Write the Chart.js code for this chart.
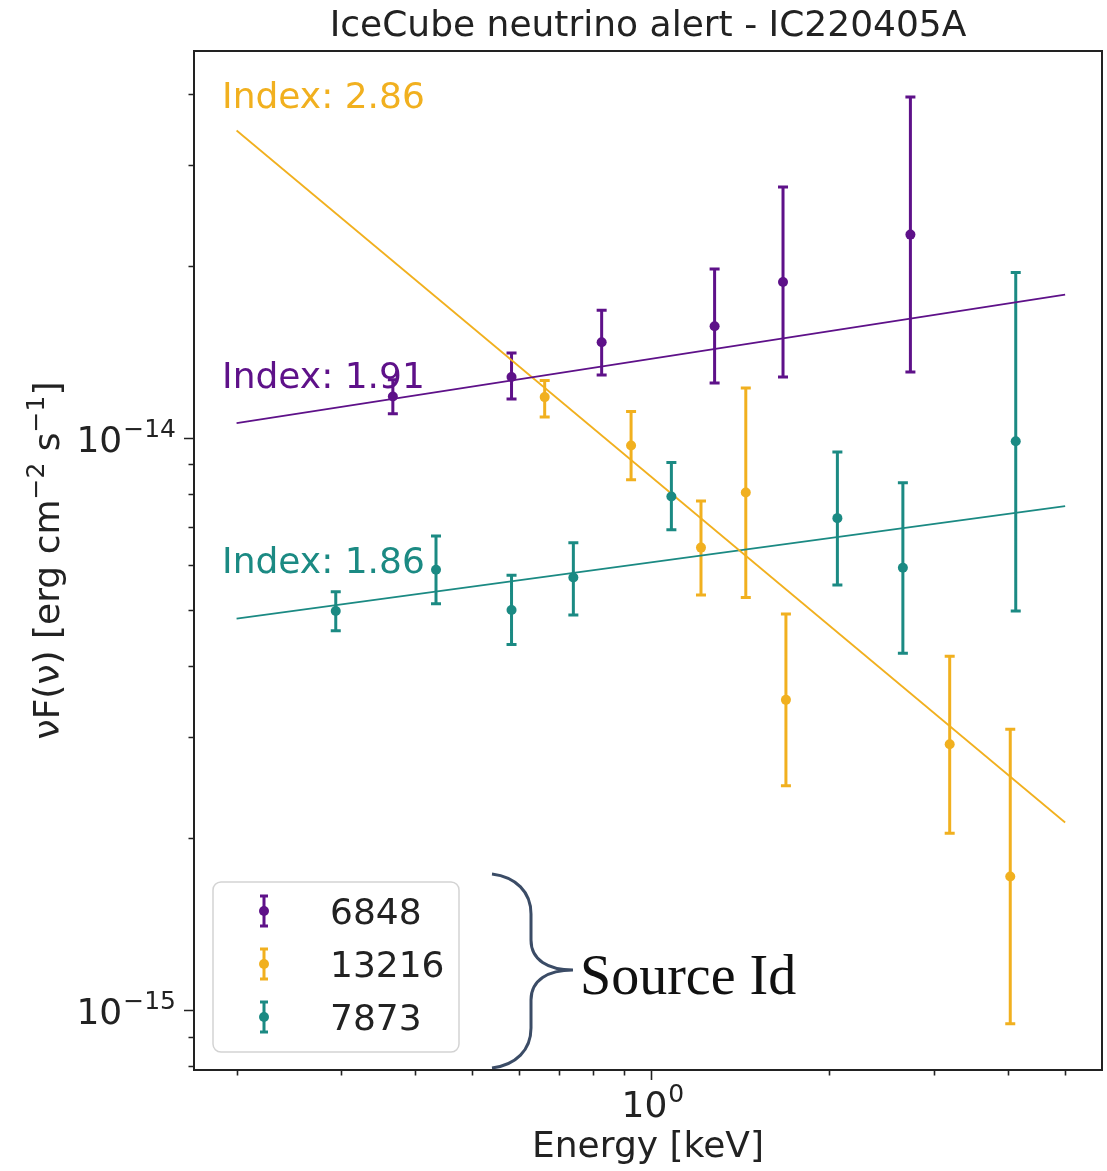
<!DOCTYPE html>
<html>
<head>
<meta charset="utf-8">
<title>IceCube neutrino alert - IC220405A</title>
<script src="https://cdn.jsdelivr.net/npm/chart.js@4.4.1/dist/chart.umd.min.js"></script>
<style>
  html, body { margin: 0; padding: 0; background: #fff; }
  canvas { display: block; }
</style>
</head>
<body>
<canvas id="sedChart" width="1107" height="1171"></canvas>
<script>
const sourceIds = ['6848', '13216', '7873'];
const sourceColors = ['#5e1189', '#f1b01f', '#1b8a83'];
const indexLabels = ['Index: 1.91', 'Index: 2.86', 'Index: 1.86'];

// energy [keV], nuF(nu) and the lower / upper end of each error bar
const energy6848 = [0.367, 0.582, 0.826, 1.281, 1.671, 2.741];
const flux6848 = [1.183e-14, 1.279e-14, 1.471e-14, 1.569e-14, 1.875e-14, 2.269e-14];
const fluxLow6848 = [1.104e-14, 1.171e-14, 1.290e-14, 1.249e-14, 1.279e-14, 1.305e-14];
const fluxHigh6848 = [1.265e-14, 1.409e-14, 1.673e-14, 1.976e-14, 2.749e-14, 3.949e-14];

const energy13216 = [0.662, 0.926, 1.215, 1.446, 1.690, 3.193, 4.040];
const flux13216 = [1.180e-14, 9.71e-15, 6.44e-15, 8.04e-15, 3.49e-15, 2.92e-15, 1.715e-15];
const fluxLow13216 = [1.089e-14, 8.46e-15, 5.32e-15, 5.27e-15, 2.47e-15, 2.04e-15, 9.48e-16];
const fluxHigh13216 = [1.262e-14, 1.114e-14, 7.77e-15, 1.224e-14, 4.93e-15, 4.16e-15, 3.10e-15];

const energy7873 = [0.294, 0.434, 0.582, 0.740, 1.083, 2.064, 2.662, 4.127];
const flux7873 = [4.99e-15, 5.89e-15, 5.01e-15, 5.71e-15, 7.91e-15, 7.25e-15, 5.94e-15, 9.88e-15];
const fluxLow7873 = [4.61e-15, 5.14e-15, 4.36e-15, 4.91e-15, 6.92e-15, 5.54e-15, 4.21e-15, 4.99e-15];
const fluxHigh7873 = [5.39e-15, 6.75e-15, 5.76e-15, 6.57e-15, 9.07e-15, 9.46e-15, 8.36e-15, 1.949e-14];

// power-law fits, evaluated at the ends of the energy band
const fitEnergy = [0.2, 5];
const fit6848 = [1.063e-14, 1.782e-14];
const fit13216 = [3.45e-14, 2.13e-15];
const fit7873 = [4.84e-15, 7.61e-15];

const xMinorTicks = [0.2, 0.3, 0.4, 0.5, 0.6, 0.7, 0.8, 0.9, 2, 3, 4, 5];
const xMajorTicks = [1];
const xMajorExponents = ['0'];
const yMinorTicks = [8e-16, 9e-16, 2e-15, 3e-15, 4e-15, 5e-15, 6e-15, 7e-15, 8e-15, 9e-15, 2e-14, 3e-14, 4e-14];
const yMajorTicks = [1e-15, 1e-14];
const yMajorExponents = ['\u221215', '\u221214'];

const FONT = '"DejaVu Sans", "Noto Sans", sans-serif';
const TEXT_COLOR = '#222222';

function toPoints(xs, ys) {
    return xs.map((v, i) => ({ x: v, y: ys[i] }));
}

function tickList(minor, major) {
    return minor.map(v => ({ value: v, major: false }))
        .concat(major.map(v => ({ value: v, major: true })))
        .sort((a, b) => a.value - b.value);
}

// draws "10" with a raised exponent, baseline at y
function drawPower(ctx, exp, x, y, align) {
    ctx.font = '36px ' + FONT;
    const baseWidth = ctx.measureText('10').width;
    ctx.font = '25px ' + FONT;
    const expWidth = ctx.measureText(exp).width;
    const total = baseWidth + expWidth + 1;
    const left = align === 'right' ? x - total : x - total / 2;
    ctx.textAlign = 'left';
    ctx.textBaseline = 'alphabetic';
    ctx.font = '36px ' + FONT;
    ctx.fillText('10', left, y);
    ctx.font = '25px ' + FONT;
    ctx.fillText(exp, left + baseWidth + 1, y - 15);
}

const errorBarPlugin = {
    id: 'errorBars',
    beforeDatasetsDraw(chart) {
        const { ctx, chartArea: a, scales: { x, y } } = chart;
        ctx.save();
        ctx.beginPath();
        ctx.rect(a.left, a.top, a.right - a.left, a.bottom - a.top);
        ctx.clip();
        chart.data.datasets.forEach(ds => {
            if (!ds.errLow) return;
            ctx.strokeStyle = ds.borderColor;
            ctx.lineWidth = 3;
            ctx.beginPath();
            ds.data.forEach((p, i) => {
                const px = x.getPixelForValue(p.x);
                const lo = y.getPixelForValue(ds.errLow[i]);
                const hi = y.getPixelForValue(ds.errHigh[i]);
                ctx.moveTo(px, lo); ctx.lineTo(px, hi);
                ctx.moveTo(px - 5, lo); ctx.lineTo(px + 5, lo);
                ctx.moveTo(px - 5, hi); ctx.lineTo(px + 5, hi);
            });
            ctx.stroke();
        });
        ctx.restore();
    }
};

const axesPlugin = {
    id: 'mplAxes',
    afterDraw(chart) {
        const { ctx, chartArea: a, scales: { x, y } } = chart;
        ctx.save();
        ctx.strokeStyle = TEXT_COLOR;
        ctx.lineWidth = 1.6;
        ctx.beginPath();
        y.ticks.forEach(t => {
            const py = Math.round(y.getPixelForValue(t.value)) + 0.5;
            ctx.moveTo(a.left, py);
            ctx.lineTo(a.left - (t.major ? 10 : 5.5), py);
        });
        x.ticks.forEach(t => {
            const px = Math.round(x.getPixelForValue(t.value)) + 0.5;
            ctx.moveTo(px, a.bottom);
            ctx.lineTo(px, a.bottom + (t.major ? 10 : 5.5));
        });
        ctx.stroke();

        ctx.lineWidth = 2;
        ctx.strokeRect(a.left, a.top, a.right - a.left, a.bottom - a.top);

        ctx.fillStyle = TEXT_COLOR;
        yMajorTicks.forEach((v, i) => {
            drawPower(ctx, yMajorExponents[i], a.left - 18, y.getPixelForValue(v) + 14, 'right');
        });
        xMajorTicks.forEach((v, i) => {
            drawPower(ctx, xMajorExponents[i], x.getPixelForValue(v) + 2, a.bottom + 47, 'center');
        });

        ctx.textAlign = 'center';
        ctx.textBaseline = 'alphabetic';
        ctx.font = '36px ' + FONT;
        const midX = (a.left + a.right) / 2;
        ctx.fillText('IceCube neutrino alert - IC220405A', midX, a.top - 15);
        ctx.fillText('Energy [keV]', midX, a.bottom + 87);

        // rotated y label with superscripts
        const parts = [['\u03bdF(\u03bd) [erg cm', 36, 0], ['\u22122', 25, -15], [' s', 36, 0], ['\u22121', 25, -15], [']', 36, 0]];
        let total = 0;
        parts.forEach(p => { ctx.font = p[1] + 'px ' + FONT; total += ctx.measureText(p[0]).width; });
        ctx.translate(59, (a.top + a.bottom) / 2);
        ctx.rotate(-Math.PI / 2);
        ctx.textAlign = 'left';
        let cx = -total / 2;
        parts.forEach(p => {
            ctx.font = p[1] + 'px ' + FONT;
            ctx.fillText(p[0], cx, p[2]);
            cx += ctx.measureText(p[0]).width;
        });
        ctx.restore();
    }
};

const annotationPlugin = {
    id: 'annotations',
    afterDatasetsDraw(chart, args, opts) {
        const { ctx, chartArea: a, scales: { x, y } } = chart;
        ctx.save();
        ctx.font = '36px ' + FONT;
        ctx.textAlign = 'left';
        ctx.textBaseline = 'alphabetic';
        opts.anchors.forEach((pos, i) => {
            ctx.fillStyle = sourceColors[i];
            ctx.fillText(indexLabels[i], x.getPixelForValue(pos.x), y.getPixelForValue(pos.y));
        });

        // legend box
        const bx = a.left + 19, bw = 246, bh = 170, by = a.bottom - 18 - bh;
        ctx.beginPath();
        ctx.roundRect(bx, by, bw, bh, 8);
        ctx.fillStyle = 'rgba(255,255,255,0.8)';
        ctx.fill();
        ctx.strokeStyle = '#d3d3d3';
        ctx.lineWidth = 1.5;
        ctx.stroke();
        sourceIds.forEach((label, i) => {
            const ry = by + 29 + i * 53;
            const mx = bx + 51;
            ctx.strokeStyle = sourceColors[i];
            ctx.lineWidth = 3;
            ctx.beginPath();
            ctx.moveTo(mx, ry - 15); ctx.lineTo(mx, ry + 15);
            ctx.moveTo(mx - 4, ry - 15); ctx.lineTo(mx + 4, ry - 15);
            ctx.moveTo(mx - 4, ry + 15); ctx.lineTo(mx + 4, ry + 15);
            ctx.stroke();
            ctx.fillStyle = sourceColors[i];
            ctx.beginPath();
            ctx.arc(mx, ry, 5, 0, Math.PI * 2);
            ctx.fill();
            ctx.fillStyle = TEXT_COLOR;
            ctx.font = '36px ' + FONT;
            ctx.fillText(label, bx + 117, ry + 13);
        });

        // curly brace and its note
        const bxr = 492, top = 874, bot = 1068, mid = 970;
        ctx.strokeStyle = '#3b4c66';
        ctx.lineWidth = 3;
        ctx.beginPath();
        ctx.moveTo(bxr, top);
        ctx.bezierCurveTo(bxr + 24, top + 3, bxr + 39, top + 18, bxr + 39, top + 40);
        ctx.lineTo(bxr + 39, mid - 30);
        ctx.bezierCurveTo(bxr + 39, mid - 10, bxr + 56, mid, bxr + 81, mid);
        ctx.bezierCurveTo(bxr + 56, mid, bxr + 39, mid + 10, bxr + 39, mid + 30);
        ctx.lineTo(bxr + 39, bot - 40);
        ctx.bezierCurveTo(bxr + 39, bot - 18, bxr + 24, bot - 3, bxr, bot);
        ctx.stroke();
        ctx.fillStyle = '#111';
        ctx.font = '56px "Liberation Serif", "DejaVu Serif", serif';
        ctx.fillText('Source Id', 580, 994);
        ctx.restore();
    }
};

const energySets = [energy6848, energy13216, energy7873];
const fluxSets = [flux6848, flux13216, flux7873];
const lowSets = [fluxLow6848, fluxLow13216, fluxLow7873];
const highSets = [fluxHigh6848, fluxHigh13216, fluxHigh7873];
const fitSets = [fit6848, fit13216, fit7873];

const datasets = [];
sourceIds.forEach((id, i) => {
    datasets.push({
        label: id,
        data: toPoints(energySets[i], fluxSets[i]),
        errLow: lowSets[i],
        errHigh: highSets[i],
        backgroundColor: sourceColors[i],
        borderColor: sourceColors[i],
        pointRadius: 5,
        pointBorderWidth: 0,
        showLine: false
    });
});
fitSets.forEach((fit, i) => {
    datasets.push({
        label: 'fit ' + sourceIds[i],
        data: toPoints(fitEnergy, fit),
        borderColor: sourceColors[i],
        borderWidth: 1.8,
        pointRadius: 0,
        showLine: true,
        fill: false
    });
});

new Chart(document.getElementById('sedChart').getContext('2d'), {
    type: 'scatter',
    data: { datasets: datasets },
    options: {
        responsive: false,
        animation: false,
        devicePixelRatio: 1,
        layout: { padding: { top: 51, right: 1.5, left: 0, bottom: 0 } },
        scales: {
            x: {
                type: 'logarithmic',
                min: 0.1695,
                max: 5.77,
                bounds: 'data',
                grid: { display: false },
                border: { display: false },
                ticks: { display: false },
                afterBuildTicks: scale => { scale.ticks = tickList(xMinorTicks, xMajorTicks); },
                afterFit: scale => { scale.height = 101; }
            },
            y: {
                type: 'logarithmic',
                min: 7.87e-16,
                max: 4.75e-14,
                bounds: 'data',
                grid: { display: false },
                border: { display: false },
                ticks: { display: false },
                afterBuildTicks: scale => { scale.ticks = tickList(yMinorTicks, yMajorTicks); },
                afterFit: scale => { scale.width = 194; }
            }
        },
        plugins: {
            legend: { display: false },
            tooltip: { enabled: false },
            annotations: {
                anchors: [
                    { x: 0.189, y: 1.225e-14 },
                    { x: 0.189, y: 3.78e-14 },
                    { x: 0.189, y: 5.82e-15 }
                ]
            }
        }
    },
    plugins: [errorBarPlugin, annotationPlugin, axesPlugin]
});
</script>
</body>
</html>
